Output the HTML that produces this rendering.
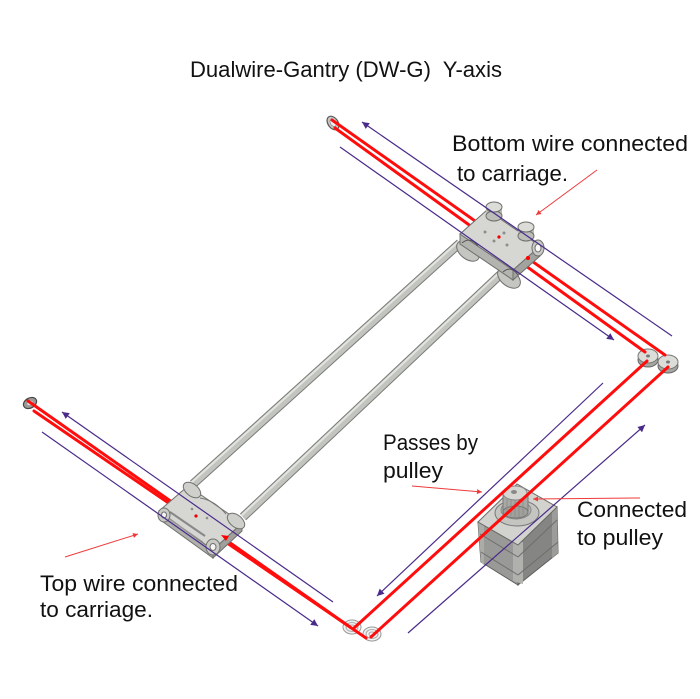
<!DOCTYPE html>
<html>
<head>
<meta charset="utf-8">
<style>
  html,body{margin:0;padding:0;background:#fff;}
  svg{display:block;}
  text{font-family:"Liberation Sans",sans-serif;font-size:22px;fill:#111;white-space:pre;}
</style>
</head>
<body>
<svg width="700" height="699" viewBox="0 0 700 699" xmlns="http://www.w3.org/2000/svg">
  <defs>
    <marker id="pa" viewBox="0 0 10 10" refX="10" refY="5" markerWidth="11" markerHeight="7" markerUnits="userSpaceOnUse" orient="auto">
      <path d="M0,0L10,5L0,10z" fill="#4a2a8a"/>
    </marker>
    <marker id="ra" viewBox="0 0 10 10" refX="10" refY="5" markerWidth="7" markerHeight="5" markerUnits="userSpaceOnUse" orient="auto">
      <path d="M0,0L10,5L0,10z" fill="#f03a3a"/>
    </marker>
  </defs>

  <rect width="700" height="699" fill="#fff"/>

  <!-- Title & labels -->
  <text x="190" y="77" textLength="312" lengthAdjust="spacingAndGlyphs" style="font-size:22.5px">Dualwire-Gantry (DW-G)  Y-axis</text>
  <text x="452" y="151" textLength="236" lengthAdjust="spacingAndGlyphs">Bottom wire connected</text>
  <text x="457" y="181" textLength="111" lengthAdjust="spacingAndGlyphs">to carriage.</text>
  <text x="383" y="450" textLength="95" lengthAdjust="spacingAndGlyphs">Passes by</text>
  <text x="383" y="478" textLength="60" lengthAdjust="spacingAndGlyphs">pulley</text>
  <text x="577" y="517" textLength="110" lengthAdjust="spacingAndGlyphs">Connected</text>
  <text x="577" y="545" textLength="86" lengthAdjust="spacingAndGlyphs">to pulley</text>
  <text x="40" y="591" textLength="198" lengthAdjust="spacingAndGlyphs">Top wire connected</text>
  <text x="40" y="617" textLength="113" lengthAdjust="spacingAndGlyphs">to carriage.</text>

  <!-- Rods -->
  <g stroke-linecap="butt">
    <line x1="460" y1="243" x2="193" y2="484" stroke="#7a7c78" stroke-width="9"/>
    <line x1="460" y1="243" x2="193" y2="484" stroke="#c2c5bf" stroke-width="7"/>
    <line x1="458.5" y1="241.5" x2="191.5" y2="482.5" stroke="#e2e4df" stroke-width="2"/>
    <line x1="502" y1="273" x2="243" y2="517" stroke="#7a7c78" stroke-width="9"/>
    <line x1="502" y1="273" x2="243" y2="517" stroke="#c2c5bf" stroke-width="7"/>
    <line x1="500.5" y1="271.5" x2="241.5" y2="515.5" stroke="#e2e4df" stroke-width="2"/>
  </g>

  <!-- Motor -->
  <g stroke="#5d5e5b" stroke-width="1">
    <polygon points="478,522 518,545 518,585 481,562" fill="#999a97"/>
    <polygon points="518,545 557,507 558,553 518,585" fill="#858683"/>
    <polygon points="513,542 523,542 523,584 513,581" fill="#b0b1ad" stroke="none"/>
    <polygon points="478,522 484,525 484,565 481,562" fill="#abaca8" stroke="none"/>
    <polygon points="552,511 557,507 558,553 552,558" fill="#9c9d99" stroke="none"/>
    <line x1="480" y1="534" x2="518" y2="557" stroke="#6d6e6b"/>
    <line x1="518" y1="557" x2="557" y2="520" stroke="#6d6e6b"/>
    <line x1="481" y1="552" x2="518" y2="575" stroke="#6d6e6b"/>
    <line x1="518" y1="575" x2="558" y2="542" stroke="#6d6e6b"/>
    <polygon points="478,522 517,484 557,507 518,545" fill="#d2d3cf" stroke="#6a6b68"/>
    <ellipse cx="517" cy="513" rx="22" ry="13" fill="#c4c5c1" stroke="#777"/>
    <ellipse cx="516" cy="510" rx="15" ry="9" fill="#b3b4b0" stroke="#888"/>
    <rect x="503" y="493" width="25" height="19" fill="#a8a9a5" stroke="none"/>
    <ellipse cx="515.5" cy="512" rx="12.5" ry="6" fill="#a0a19d" stroke="#777"/>
    <line x1="503" y1="493" x2="503" y2="512" stroke="#777"/>
    <line x1="528" y1="493" x2="528" y2="512" stroke="#777"/>
    <g stroke="#8a8b87" stroke-width="0.8">
      <line x1="507" y1="499" x2="507" y2="514"/>
      <line x1="511" y1="500" x2="511" y2="516"/>
      <line x1="515" y1="500" x2="515" y2="517"/>
      <line x1="519" y1="500" x2="519" y2="517"/>
      <line x1="523" y1="499" x2="523" y2="515"/>
    </g>
    <ellipse cx="515" cy="493" rx="12" ry="7" fill="#d6d7d3" stroke="#888"/>
    <ellipse cx="514" cy="492" rx="3" ry="2" fill="#888" stroke="none"/>
  </g>

  <!-- Idler pulleys -->
  <g>
    <ellipse cx="333" cy="123" rx="5" ry="7.5" transform="rotate(-35 333 123)" fill="#c8c8c4" stroke="#5a5a5a" stroke-width="1.2"/>
    <ellipse cx="333" cy="123" rx="2.5" ry="4" transform="rotate(-35 333 123)" fill="#eee" stroke="#777" stroke-width="0.6"/>
    <ellipse cx="30" cy="403" rx="7" ry="5" transform="rotate(-30 30 403)" fill="#9a9a96" stroke="#444" stroke-width="1.2"/>
    <ellipse cx="30" cy="403" rx="3" ry="2" transform="rotate(-30 30 403)" fill="#ddd"/>

    <ellipse cx="648" cy="360" rx="10" ry="7" fill="#a5a6a2" stroke="#666"/>
    <ellipse cx="648" cy="356" rx="10" ry="7" fill="#dcdcd8" stroke="#777"/>
    <ellipse cx="648" cy="356" rx="2" ry="1.5" fill="#777"/>
    <ellipse cx="668" cy="366" rx="10" ry="7" fill="#a5a6a2" stroke="#666"/>
    <ellipse cx="668" cy="362" rx="10" ry="7" fill="#dcdcd8" stroke="#777"/>
    <ellipse cx="668" cy="362" rx="2" ry="1.5" fill="#777"/>

    <ellipse cx="352" cy="627" rx="9" ry="7" fill="#f2f2f2" stroke="#999"/>
    <ellipse cx="352" cy="627" rx="6" ry="4.5" fill="none" stroke="#aaa"/>
    <ellipse cx="352" cy="627" rx="3" ry="2" fill="none" stroke="#aaa"/>
    <ellipse cx="372" cy="634" rx="9" ry="7" fill="#f2f2f2" stroke="#999"/>
    <ellipse cx="372" cy="634" rx="6" ry="4.5" fill="none" stroke="#aaa"/>
    <ellipse cx="372" cy="634" rx="3" ry="2" fill="none" stroke="#aaa"/>
  </g>

  <!-- Red wires -->
  <g stroke="#ff0d0d" stroke-width="3" fill="none" stroke-linecap="round">
    <line x1="332" y1="120" x2="665" y2="355"/>
    <line x1="335" y1="128" x2="645" y2="352"/>
    <line x1="647" y1="361" x2="354" y2="628"/>
    <line x1="668" y1="367" x2="371" y2="637"/>
    <line x1="28" y1="401" x2="350" y2="627"/>
    <line x1="34" y1="411" x2="366" y2="638"/>
  </g>

  <!-- Upper carriage -->
  <g stroke="#6e706c" stroke-width="1">
    <ellipse cx="468" cy="251" rx="13" ry="8" transform="rotate(38 468 251)" fill="#c5c6c2"/>
    <ellipse cx="509" cy="278" rx="13" ry="8" transform="rotate(38 509 278)" fill="#c5c6c2"/>
    <polygon points="460,234 513,270 513,280 460,244" fill="#b3b4b0"/>
    <polygon points="513,270 540,246 540,256 513,280" fill="#a2a39f"/>
    <polygon points="487,210 540,246 513,270 460,234" fill="#d6d7d3"/>
    <path d="M462,243 Q470,236 478,246" fill="none" stroke="#555"/>
    <path d="M503,272 Q511,265 518,275" fill="none" stroke="#555"/>
    <rect x="486" y="207" width="16" height="9" fill="#bdbeba" stroke="none"/>
    <ellipse cx="494" cy="216" rx="8" ry="5" fill="#bdbeba"/>
    <ellipse cx="494" cy="207" rx="8" ry="5" fill="#dcddd9"/>
    <rect x="518" y="227" width="16" height="9" fill="#bdbeba" stroke="none"/>
    <ellipse cx="526" cy="236" rx="8" ry="5" fill="#bdbeba"/>
    <ellipse cx="526" cy="227" rx="8" ry="5" fill="#dcddd9"/>
    <ellipse cx="538" cy="248" rx="6" ry="8" fill="#c9cac6"/>
    <ellipse cx="538" cy="248" rx="3" ry="4" fill="#fafafa"/>
    <circle cx="485" cy="232" r="1.5" fill="#8d8e8a" stroke="none"/>
    <circle cx="494" cy="241" r="1.5" fill="#8d8e8a" stroke="none"/>
    <circle cx="504" cy="233" r="1.5" fill="#8d8e8a" stroke="none"/>
    <circle cx="507" cy="245" r="1.5" fill="#8d8e8a" stroke="none"/>
    <circle cx="499" cy="237" r="1.6" fill="#e00" stroke="none"/>
    <circle cx="528" cy="258" r="2" fill="#f00" stroke="none"/>
  </g>

  <!-- Lower carriage -->
  <g stroke="#6e706c" stroke-width="1">
    <polygon points="159,511 213,550 213,558 159,519" fill="#b0b1ad"/>
    <polygon points="213,550 242,523 242,531 213,558" fill="#a0a19d"/>
    <polygon points="188,486 242,523 213,550 159,511" fill="#d6d7d3"/>
    <ellipse cx="192" cy="490" rx="10" ry="6" transform="rotate(38 192 490)" fill="#cfd0cc"/>
    <ellipse cx="236" cy="521" rx="10" ry="6" transform="rotate(38 236 521)" fill="#cfd0cc"/>
    <path d="M200,498 Q214,500 226,514" fill="none" stroke="#777"/>
    <line x1="170" y1="512" x2="205" y2="536" stroke="#888" stroke-width="2"/>
    <line x1="168" y1="518" x2="203" y2="542" stroke="#999" stroke-width="1"/>
    <ellipse cx="164" cy="515" rx="6" ry="7" fill="#c9cac6"/>
    <ellipse cx="164" cy="515" rx="2.5" ry="3" fill="#f5f5f5"/>
    <ellipse cx="213" cy="547" rx="7" ry="8" fill="#c9cac6"/>
    <ellipse cx="213" cy="547" rx="3" ry="3.5" fill="#f5f5f5"/>
    <circle cx="196" cy="516" r="1.6" fill="#e00" stroke="none"/>
    <circle cx="192" cy="509" r="1.3" fill="#8d8e8a" stroke="none"/>
    <circle cx="207" cy="518" r="1.3" fill="#8d8e8a" stroke="none"/>
    <polygon points="221,535 229,536 226,541" fill="#f00" stroke="none"/>
  </g>

  <!-- Purple motion arrows -->
  <g stroke="#4a2a8a" stroke-width="1.2" fill="none">
    <line x1="672" y1="336" x2="362" y2="122" marker-end="url(#pa)"/>
    <line x1="340" y1="147" x2="614" y2="340" marker-end="url(#pa)"/>
    <line x1="603" y1="383" x2="377" y2="596" marker-end="url(#pa)"/>
    <line x1="408" y1="633" x2="645" y2="425" marker-end="url(#pa)"/>
    <line x1="333" y1="602" x2="62" y2="412" marker-end="url(#pa)"/>
    <line x1="42" y1="432" x2="318" y2="626" marker-end="url(#pa)"/>
  </g>

  <!-- Red leader arrows -->
  <g stroke="#f03a3a" stroke-width="1" fill="none">
    <line x1="597" y1="170" x2="536" y2="215" marker-end="url(#ra)"/>
    <line x1="65" y1="557" x2="138" y2="534" marker-end="url(#ra)"/>
    <line x1="412" y1="486" x2="482" y2="492" marker-end="url(#ra)"/>
    <line x1="640" y1="498" x2="533" y2="499" marker-end="url(#ra)"/>
  </g>
</svg>
</body>
</html>
